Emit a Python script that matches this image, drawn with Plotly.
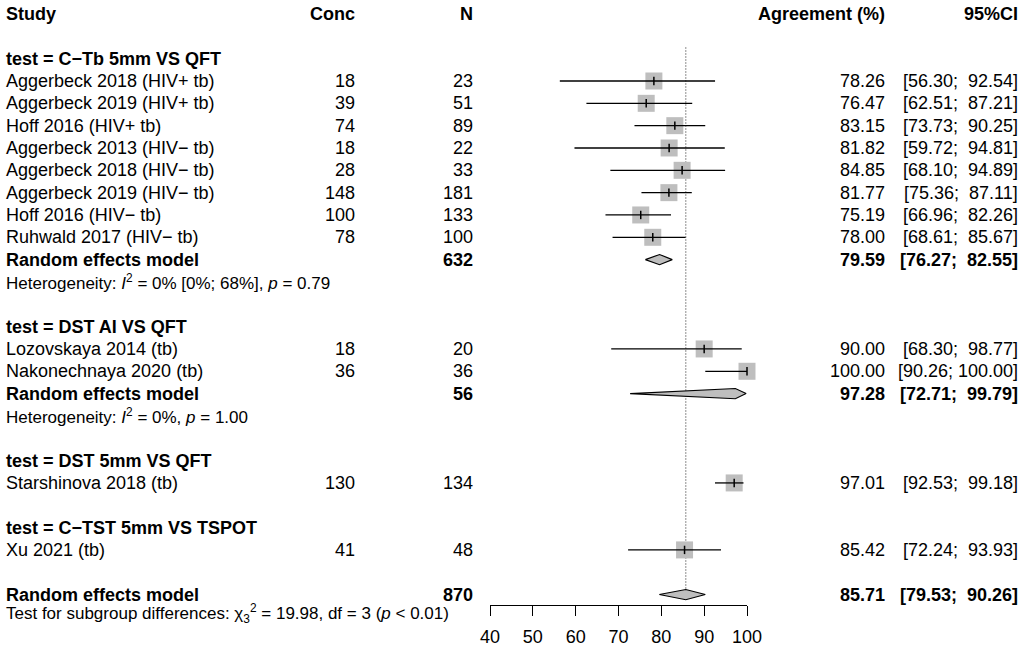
import plotly.graph_objects as go

# ---------------- data ----------------
groups = ["test = C\u2212Tb 5mm VS QFT", "test = DST AI VS QFT",
          "test = DST 5mm VS QFT", "test = C\u2212TST 5mm VS TSPOT"]
studies = ["Aggerbeck 2018 (HIV+ tb)", "Aggerbeck 2019 (HIV+ tb)", "Hoff 2016 (HIV+ tb)",
           "Aggerbeck 2013 (HIV\u2212 tb)", "Aggerbeck 2018 (HIV\u2212 tb)", "Aggerbeck 2019 (HIV\u2212 tb)",
           "Hoff 2016 (HIV\u2212 tb)", "Ruhwald 2017 (HIV\u2212 tb)",
           "Lozovskaya 2014 (tb)", "Nakonechnaya 2020 (tb)",
           "Starshinova 2018 (tb)", "Xu 2021 (tb)"]
study_group = [0, 0, 0, 0, 0, 0, 0, 0, 1, 1, 2, 3]
conc = [18, 39, 74, 18, 28, 148, 100, 78, 18, 36, 130, 41]
n_tot = [23, 51, 89, 22, 33, 181, 133, 100, 20, 36, 134, 48]
est = [78.26, 76.47, 83.15, 81.82, 84.85, 81.77, 75.19, 78.00, 90.00, 100.00, 97.01, 85.42]
lo = [56.30, 62.51, 73.73, 59.72, 68.10, 75.36, 66.96, 68.61, 68.30, 90.26, 92.53, 72.24]
hi = [92.54, 87.21, 90.25, 94.81, 94.89, 87.11, 82.26, 85.67, 98.77, 100.00, 99.18, 93.93]

# subgroup random effects (groups with >1 study)
sub_group = [0, 1]
sub_n = [632, 56]
sub_est = [79.59, 97.28]
sub_lo = [76.27, 72.71]
sub_hi = [82.55, 99.79]
sub_het = ["Heterogeneity: <i>I</i><sup>2</sup> = 0% [0%; 68%], <i>p</i> = 0.79",
           "Heterogeneity: <i>I</i><sup>2</sup> = 0%, <i>p</i> = 1.00"]

overall_n = 870
overall_est = 85.71
overall_lo = 79.53
overall_hi = 90.26
subgroup_test = "Test for subgroup differences: \u03c7<sub>3</sub><sup>2</sup> = 19.98, df = 3 (<i>p</i> < 0.01)"

tick_vals = [40, 50, 60, 70, 80, 90, 100]

# ---------------- layout of rows ----------------
W, H = 1024, 649
ROW0_PX, ROW_PX = 14.0, 22.33
FONT = "Liberation Sans, Arial, Helvetica, sans-serif"
FS = 18
FS_SMALL = 17

r = 2
study_rows = [None] * len(studies)
group_rows = []
sub_rows = {}
het_rows = {}
for g in range(len(groups)):
    group_rows.append(r); r += 1
    for i, sg in enumerate(study_group):
        if sg == g:
            study_rows[i] = r; r += 1
    if g in sub_group:
        k = sub_group.index(g)
        sub_rows[k] = r; r += 1
        het_rows[k] = r; r += 1
    r += 1  # blank row
overall_row = r
test_row = r + 0.84

fig = go.Figure()
ann = []

def txt(x_px, row, s, anchor="left", bold=False, size=FS):
    if bold:
        s = "<b>" + s + "</b>"
    ann.append(dict(x=x_px / W, xref="paper", y=row, yref="y", text=s, showarrow=False,
                    xanchor=anchor, yanchor="middle", borderpad=0,
                    font=dict(family=FONT, size=size, color="black")))

X_STUDY, X_CONC, X_N, X_EST, X_CI = 5, 356, 474, 886, 1019
NB = "\u00a0"

def fmt_ci(a, b):
    sa = f"{a:.2f}"
    sb = f"{b:.2f}".rjust(6).replace(" ", NB)
    return f"[{sa};{NB}{sb}]"

# header
txt(X_STUDY, 0, "Study", bold=True)
txt(X_CONC, 0, "Conc", "right", bold=True)
txt(X_N, 0, "N", "right", bold=True)
txt(X_EST, 0, "Agreement (%)", "right", bold=True)
txt(X_CI, 0, "95%CI", "right", bold=True)

for g, name in enumerate(groups):
    txt(X_STUDY, group_rows[g], name, bold=True)

for i, s in enumerate(studies):
    rr = study_rows[i]
    txt(X_STUDY, rr, s)
    txt(X_CONC, rr, str(conc[i]), "right")
    txt(X_N, rr, str(n_tot[i]), "right")
    txt(X_EST, rr, f"{est[i]:.2f}", "right")
    txt(X_CI, rr, fmt_ci(lo[i], hi[i]), "right")

for k in range(len(sub_group)):
    rr = sub_rows[k]
    txt(X_STUDY, rr, "Random effects model", bold=True)
    txt(X_N, rr, str(sub_n[k]), "right", bold=True)
    txt(X_EST, rr, f"{sub_est[k]:.2f}", "right", bold=True)
    txt(X_CI, rr, fmt_ci(sub_lo[k], sub_hi[k]), "right", bold=True)
    txt(X_STUDY, het_rows[k], sub_het[k], size=FS_SMALL)

txt(X_STUDY, overall_row, "Random effects model", bold=True)
txt(X_N, overall_row, str(overall_n), "right", bold=True)
txt(X_EST, overall_row, f"{overall_est:.2f}", "right", bold=True)
txt(X_CI, overall_row, fmt_ci(overall_lo, overall_hi), "right", bold=True)
txt(X_STUDY, test_row, subgroup_test, size=FS_SMALL)

# reference dotted line at overall estimate
DH = 0.23  # diamond half height (rows)
fig.add_trace(go.Scatter(x=[overall_est, overall_est], y=[1.5, overall_row - DH], mode="lines",
                         line=dict(color="#333333", width=1.1, dash="1px,2px"), hoverinfo="skip"))

# squares
fig.add_trace(go.Scatter(x=est, y=study_rows, mode="markers", cliponaxis=False,
                         marker=dict(symbol="square", size=17, color="#BEBEBE", line=dict(width=0)),
                         hoverinfo="skip"))
# CI lines
for i in range(len(studies)):
    fig.add_trace(go.Scatter(x=[lo[i], hi[i]], y=[study_rows[i]] * 2, mode="lines",
                             line=dict(color="black", width=1.3), hoverinfo="skip"))
# estimate ticks
fig.add_trace(go.Scatter(x=est, y=study_rows, mode="markers", cliponaxis=False,
                         marker=dict(symbol="line-ns", size=6, line=dict(color="black", width=1.5)),
                         hoverinfo="skip"))

def diamond(e, a, b, rr):
    fig.add_trace(go.Scatter(x=[a, e, b, e, a], y=[rr, rr - DH, rr, rr + DH, rr], mode="lines",
                             fill="toself", fillcolor="#BEBEBE",
                             line=dict(color="black", width=1.1), hoverinfo="skip"))

for k in range(len(sub_group)):
    diamond(sub_est[k], sub_lo[k], sub_hi[k], sub_rows[k])
diamond(overall_est, overall_lo, overall_hi, overall_row)

y_top = -ROW0_PX / ROW_PX
y_bot = (H - ROW0_PX) / ROW_PX
axis_px = 605
fig.update_layout(
    width=W, height=H, margin=dict(l=0, r=0, t=0, b=0, pad=0, autoexpand=False),
    paper_bgcolor="white", plot_bgcolor="white", showlegend=False,
    annotations=ann,
    xaxis=dict(domain=[490 / W, 747 / W], range=[40, 100], tickvals=tick_vals,
               ticks="outside", ticklen=10, tickwidth=1.2, tickcolor="black",
               showline=True, linecolor="black", linewidth=1.2,
               showgrid=False, zeroline=False, anchor="free", position=(H - axis_px) / H,
               ticklabelstandoff=5, automargin=False,
               tickfont=dict(family=FONT, size=FS, color="black")),
    yaxis=dict(range=[y_bot, y_top], visible=False, showgrid=False, zeroline=False, automargin=False),
)
fig.write_html("out.html")
